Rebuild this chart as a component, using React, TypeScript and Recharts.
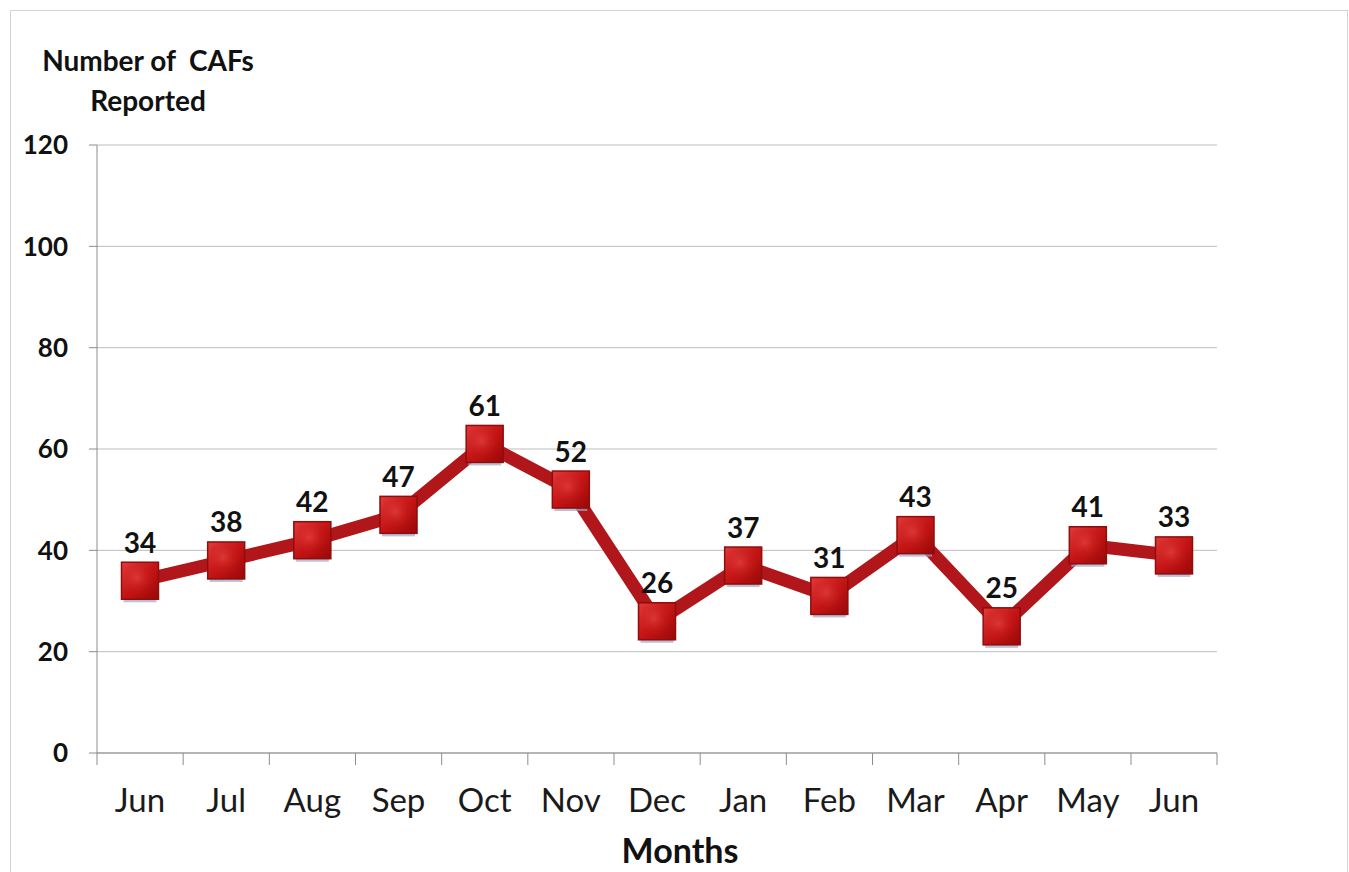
import React from "react";
import { LineChart, Line, XAxis, YAxis, CartesianGrid, LabelList } from "recharts";

const months = ["Jun", "Jul", "Aug", "Sep", "Oct", "Nov", "Dec", "Jan", "Feb", "Mar", "Apr", "May", "Jun"];
const cafValues = [34, 38, 42, 47, 61, 52, 26, 37, 31, 43, 25, 41, 39];
const cafLabels = ["34", "38", "42", "47", "61", "52", "26", "37", "31", "43", "25", "41", "33"];
const yTicks = [0, 20, 40, 60, 80, 100, 120];

const data = months.map((m, i) => ({ month: m, value: cafValues[i], label: cafLabels[i] }));

const FONT = "Lato, 'Open Sans', sans-serif";
const X_TICK_SIZE = 12;
const X_TICK_MARGIN = 24;
const HALF_BAND = 43;

const XTick = (props: any) => {
  const { x, y, payload, index, visibleTicksCount } = props;
  const axisY = y - X_TICK_SIZE - X_TICK_MARGIN;
  const isLast = index === (visibleTicksCount ?? months.length) - 1;
  return (
    <g>
      <line x1={x - HALF_BAND} x2={x - HALF_BAND} y1={axisY} y2={axisY + X_TICK_SIZE} stroke="#8c8c8c" strokeWidth={1} />
      {isLast && (
        <line x1={x + HALF_BAND} x2={x + HALF_BAND} y1={axisY} y2={axisY + X_TICK_SIZE} stroke="#8c8c8c" strokeWidth={1} />
      )}
      <text x={x} y={y} dy="0.71em" textAnchor="middle" fontFamily={FONT} fontSize={33} fill="#1a1a1a">
        {payload.value}
      </text>
    </g>
  );
};

const Marker = (props: any) => {
  const { cx, cy, index } = props;
  if (cx == null || cy == null) return <g key={`m-${index}`} />;
  const s = 37;
  return (
    <g key={`m-${index}`}>
      <rect x={cx - s / 2 + 2} y={cy + s / 2 - 1} width={s - 4} height={4} fill="#9aa6c4" opacity={0.7} />
      <rect x={cx - s / 2} y={cy - s / 2} width={s} height={s} fill="url(#markerGrad)" stroke="#8e0d0d" strokeWidth={1.5} />
      <rect x={cx - s / 2 + 4} y={cy - s / 2 + 4} width={s - 8} height={s - 8} fill="url(#markerInner)" opacity={0.6} />
    </g>
  );
};

export default function App() {
  return (
    <div style={{ position: "fixed", left: 0, top: 0, width: 1349, height: 872, background: "#ffffff", overflow: "hidden" }}>
      <div style={{ position: "absolute", left: 10, top: 10, width: 1336, height: 900, border: "1px solid #d4d4d4" }} />
      <div
        style={{
          position: "absolute",
          left: 6,
          top: 40,
          width: 284,
          textAlign: "center",
          fontFamily: FONT,
          fontWeight: 700,
          fontSize: 28,
          lineHeight: "40px",
          color: "#111",
          whiteSpace: "pre",
        }}
      >
        {"Number of  CAFs\nReported"}
      </div>
      <div
        style={{
          position: "absolute",
          left: 580,
          top: 829,
          width: 200,
          textAlign: "center",
          fontFamily: FONT,
          fontWeight: 700,
          fontSize: 34,
          color: "#111",
        }}
      >
        Months
      </div>
      <div style={{ position: "absolute", left: 0, top: 0 }}>
        <LineChart width={1349} height={872} data={data} margin={{ top: 145, right: 132, bottom: 59, left: 17 }}>
          <defs>
            <linearGradient id="markerGrad" x1="0" y1="0" x2="1" y2="1">
              <stop offset="0%" stopColor="#e23a3a" />
              <stop offset="50%" stopColor="#c41414" />
              <stop offset="100%" stopColor="#9a0808" />
            </linearGradient>
            <radialGradient id="markerInner" cx="0.4" cy="0.4" r="0.7">
              <stop offset="0%" stopColor="#e84a4a" />
              <stop offset="100%" stopColor="#c01010" stopOpacity={0} />
            </radialGradient>
          </defs>
          <CartesianGrid vertical={false} stroke="#bdbdbd" strokeWidth={1} />
          <XAxis
            dataKey="month"
            interval={0}
            padding={{ left: HALF_BAND, right: HALF_BAND }}
            axisLine={{ stroke: "#8c8c8c" }}
            tickLine={false}
            tickSize={X_TICK_SIZE}
            tickMargin={X_TICK_MARGIN}
            height={60}
            tick={<XTick />}
          />
          <YAxis
            domain={[0, 120]}
            ticks={yTicks}
            interval={0}
            width={80}
            axisLine={{ stroke: "#8c8c8c" }}
            tickLine={{ stroke: "#8c8c8c" }}
            tickSize={8}
            tickMargin={21}
            tick={{ fontFamily: FONT, fontWeight: 700, fontSize: 26, fill: "#111" }}
          />
          <Line
            type="linear"
            dataKey="value"
            stroke="#b0161a"
            strokeWidth={13}
            strokeLinejoin="miter"
            dot={(p: any) => <Marker key={`dot-${p.index}`} {...p} />}
            activeDot={false}
            isAnimationActive={false}
          >
            <LabelList
              dataKey="label"
              position="top"
              offset={28}
              style={{ fontFamily: FONT, fontWeight: 700, fontSize: 28, fill: "#111" }}
            />
          </Line>
        </LineChart>
      </div>
    </div>
  );
}
